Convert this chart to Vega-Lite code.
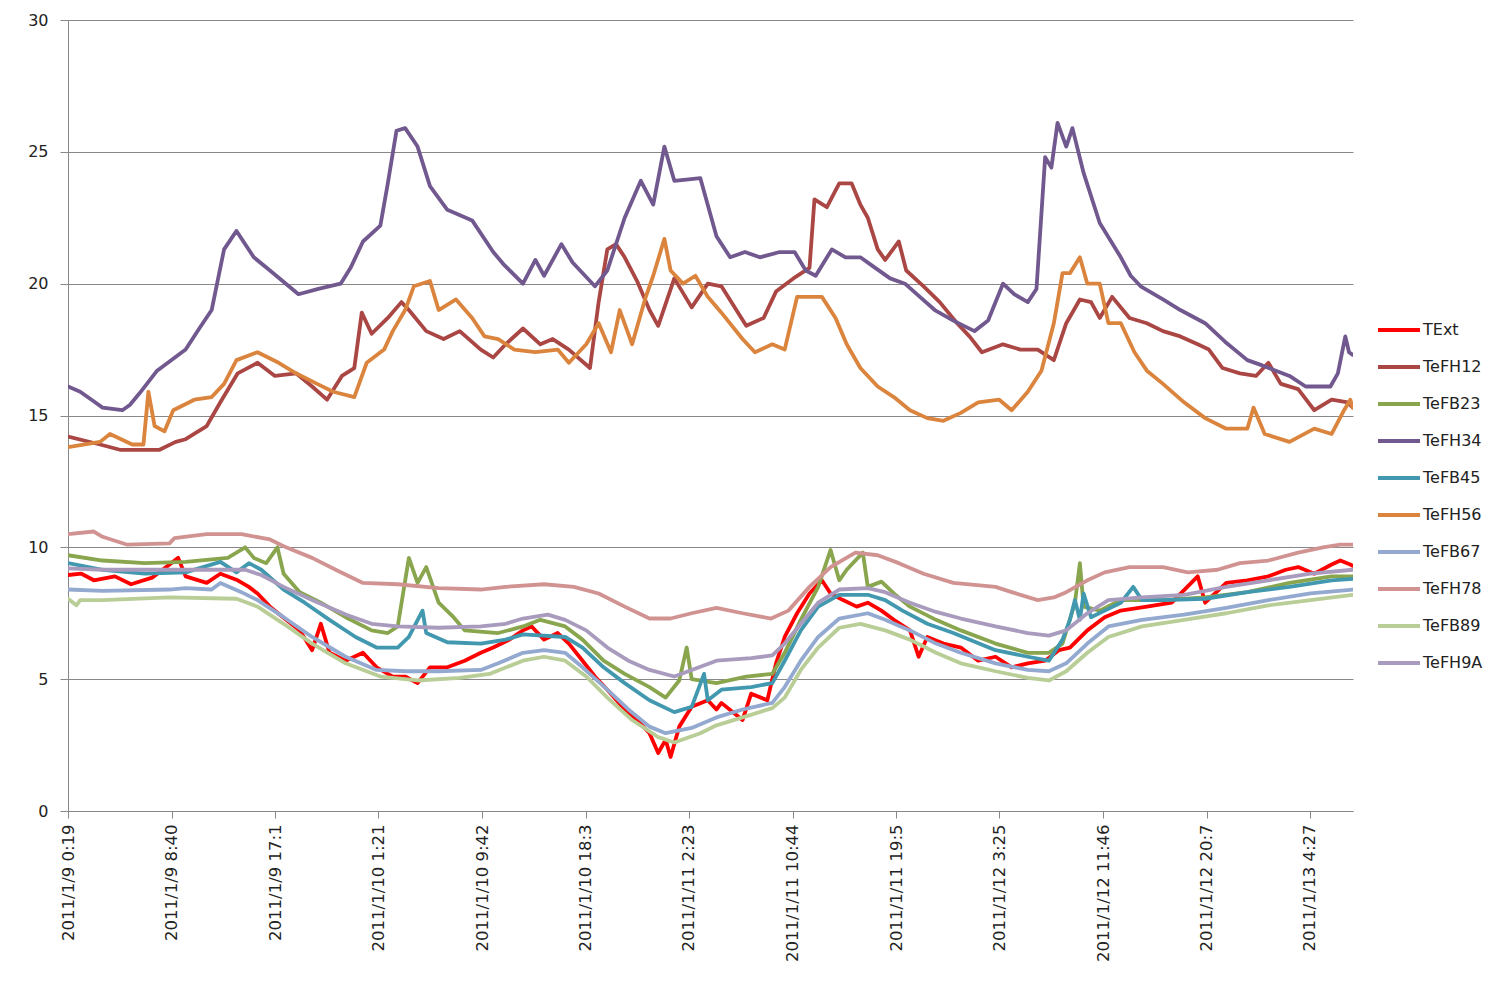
{
"$schema":"https://vega.github.io/schema/vega-lite/v6.json",
"width":1285,"height":791,
"autosize":"none",
"padding":{"left":68,"top":20,"right":144,"bottom":171},
"background":"white",
"config":{"view":{"stroke":null}},
"data":{"values":[
{"s":"TExt","h":0.32,"v":8.95},{"s":"TExt","h":1.4,"v":9.0},{"s":"TExt","h":2.4,"v":8.75},{"s":"TExt","h":4.1,"v":8.9},{"s":"TExt","h":5.4,"v":8.6},{"s":"TExt","h":7.1,"v":8.85},{"s":"TExt","h":9.2,"v":9.6},{"s":"TExt","h":9.8,"v":8.9},{"s":"TExt","h":11.5,"v":8.65},{"s":"TExt","h":12.6,"v":9.0},{"s":"TExt","h":14.0,"v":8.75},{"s":"TExt","h":14.9,"v":8.5},{"s":"TExt","h":15.6,"v":8.25},{"s":"TExt","h":16.6,"v":7.75},{"s":"TExt","h":17.9,"v":7.25},{"s":"TExt","h":19.0,"v":6.85},{"s":"TExt","h":20.0,"v":6.1},{"s":"TExt","h":20.7,"v":7.1},{"s":"TExt","h":21.4,"v":6.0},{"s":"TExt","h":22.7,"v":5.7},{"s":"TExt","h":24.1,"v":6.0},{"s":"TExt","h":25.2,"v":5.45},{"s":"TExt","h":26.5,"v":5.1},{"s":"TExt","h":27.5,"v":5.1},{"s":"TExt","h":28.5,"v":4.85},{"s":"TExt","h":29.5,"v":5.45},{"s":"TExt","h":30.9,"v":5.45},{"s":"TExt","h":32.3,"v":5.7},{"s":"TExt","h":33.6,"v":6.0},{"s":"TExt","h":34.6,"v":6.2},{"s":"TExt","h":35.9,"v":6.5},{"s":"TExt","h":37.0,"v":6.85},{"s":"TExt","h":37.7,"v":7.0},{"s":"TExt","h":38.7,"v":6.5},{"s":"TExt","h":39.8,"v":6.75},{"s":"TExt","h":40.7,"v":6.35},{"s":"TExt","h":41.8,"v":5.7},{"s":"TExt","h":42.8,"v":5.1},{"s":"TExt","h":43.8,"v":4.6},{"s":"TExt","h":45.2,"v":3.85},{"s":"TExt","h":46.2,"v":3.45},{"s":"TExt","h":47.2,"v":2.95},{"s":"TExt","h":47.9,"v":2.2},{"s":"TExt","h":48.5,"v":2.7},{"s":"TExt","h":48.9,"v":2.05},{"s":"TExt","h":49.6,"v":3.2},{"s":"TExt","h":50.6,"v":3.95},{"s":"TExt","h":51.9,"v":4.2},{"s":"TExt","h":52.6,"v":3.85},{"s":"TExt","h":53.0,"v":4.1},{"s":"TExt","h":54.7,"v":3.45},{"s":"TExt","h":55.4,"v":4.45},{"s":"TExt","h":56.7,"v":4.2},{"s":"TExt","h":57.4,"v":5.6},{"s":"TExt","h":58.1,"v":6.6},{"s":"TExt","h":59.1,"v":7.5},{"s":"TExt","h":60.1,"v":8.25},{"s":"TExt","h":61.1,"v":8.75},{"s":"TExt","h":61.8,"v":8.25},{"s":"TExt","h":62.8,"v":8.0},{"s":"TExt","h":63.9,"v":7.75},{"s":"TExt","h":64.8,"v":7.9},{"s":"TExt","h":65.9,"v":7.6},{"s":"TExt","h":66.9,"v":7.25},{"s":"TExt","h":68.2,"v":6.85},{"s":"TExt","h":68.9,"v":5.85},{"s":"TExt","h":69.6,"v":6.6},{"s":"TExt","h":70.9,"v":6.35},{"s":"TExt","h":72.3,"v":6.2},{"s":"TExt","h":73.7,"v":5.7},{"s":"TExt","h":75.1,"v":5.85},{"s":"TExt","h":76.4,"v":5.45},{"s":"TExt","h":77.7,"v":5.6},{"s":"TExt","h":79.1,"v":5.7},{"s":"TExt","h":80.2,"v":6.1},{"s":"TExt","h":81.1,"v":6.2},{"s":"TExt","h":82.5,"v":6.85},{"s":"TExt","h":83.9,"v":7.35},{"s":"TExt","h":85.2,"v":7.6},{"s":"TExt","h":87.3,"v":7.75},{"s":"TExt","h":89.3,"v":7.9},{"s":"TExt","h":91.4,"v":8.9},{"s":"TExt","h":92.0,"v":7.9},{"s":"TExt","h":93.7,"v":8.65},{"s":"TExt","h":95.4,"v":8.75},{"s":"TExt","h":97.1,"v":8.9},{"s":"TExt","h":98.5,"v":9.15},{"s":"TExt","h":99.5,"v":9.25},{"s":"TExt","h":100.8,"v":9.0},{"s":"TExt","h":102.2,"v":9.35},{"s":"TExt","h":102.9,"v":9.5},{"s":"TExt","h":103.7,"v":9.35},{"s":"TExt","h":103.9,"v":9.3},
{"s":"TeFH12","h":0.32,"v":14.2},{"s":"TeFH12","h":2.9,"v":13.9},{"s":"TeFH12","h":4.5,"v":13.7},{"s":"TeFH12","h":7.7,"v":13.7},{"s":"TeFH12","h":9.0,"v":14.0},{"s":"TeFH12","h":9.8,"v":14.1},{"s":"TeFH12","h":11.5,"v":14.6},{"s":"TeFH12","h":12.6,"v":15.5},{"s":"TeFH12","h":14.0,"v":16.6},{"s":"TeFH12","h":15.6,"v":17.0},{"s":"TeFH12","h":17.0,"v":16.5},{"s":"TeFH12","h":18.7,"v":16.6},{"s":"TeFH12","h":20.0,"v":16.1},{"s":"TeFH12","h":21.2,"v":15.6},{"s":"TeFH12","h":22.4,"v":16.5},{"s":"TeFH12","h":23.4,"v":16.8},{"s":"TeFH12","h":24.0,"v":18.9},{"s":"TeFH12","h":24.8,"v":18.1},{"s":"TeFH12","h":26.1,"v":18.7},{"s":"TeFH12","h":27.2,"v":19.3},{"s":"TeFH12","h":27.8,"v":19.0},{"s":"TeFH12","h":29.2,"v":18.2},{"s":"TeFH12","h":30.6,"v":17.9},{"s":"TeFH12","h":31.9,"v":18.2},{"s":"TeFH12","h":33.6,"v":17.5},{"s":"TeFH12","h":34.6,"v":17.2},{"s":"TeFH12","h":35.6,"v":17.7},{"s":"TeFH12","h":37.0,"v":18.3},{"s":"TeFH12","h":38.4,"v":17.7},{"s":"TeFH12","h":39.4,"v":17.9},{"s":"TeFH12","h":40.7,"v":17.5},{"s":"TeFH12","h":42.4,"v":16.8},{"s":"TeFH12","h":43.1,"v":19.3},{"s":"TeFH12","h":43.8,"v":21.3},{"s":"TeFH12","h":44.5,"v":21.5},{"s":"TeFH12","h":45.2,"v":21.0},{"s":"TeFH12","h":46.2,"v":20.1},{"s":"TeFH12","h":47.2,"v":19.0},{"s":"TeFH12","h":47.9,"v":18.4},{"s":"TeFH12","h":49.2,"v":20.2},{"s":"TeFH12","h":50.6,"v":19.1},{"s":"TeFH12","h":51.9,"v":20.0},{"s":"TeFH12","h":53.0,"v":19.9},{"s":"TeFH12","h":55.0,"v":18.4},{"s":"TeFH12","h":56.4,"v":18.7},{"s":"TeFH12","h":57.4,"v":19.7},{"s":"TeFH12","h":58.8,"v":20.2},{"s":"TeFH12","h":60.1,"v":20.6},{"s":"TeFH12","h":60.5,"v":23.2},{"s":"TeFH12","h":61.5,"v":22.9},{"s":"TeFH12","h":62.5,"v":23.8},{"s":"TeFH12","h":63.5,"v":23.8},{"s":"TeFH12","h":64.2,"v":23.0},{"s":"TeFH12","h":64.8,"v":22.5},{"s":"TeFH12","h":65.6,"v":21.3},{"s":"TeFH12","h":66.2,"v":20.9},{"s":"TeFH12","h":67.3,"v":21.6},{"s":"TeFH12","h":67.9,"v":20.5},{"s":"TeFH12","h":69.3,"v":19.9},{"s":"TeFH12","h":70.6,"v":19.3},{"s":"TeFH12","h":72.0,"v":18.5},{"s":"TeFH12","h":73.0,"v":18.0},{"s":"TeFH12","h":74.0,"v":17.4},{"s":"TeFH12","h":75.7,"v":17.7},{"s":"TeFH12","h":77.1,"v":17.5},{"s":"TeFH12","h":78.5,"v":17.5},{"s":"TeFH12","h":79.8,"v":17.1},{"s":"TeFH12","h":80.8,"v":18.5},{"s":"TeFH12","h":81.9,"v":19.4},{"s":"TeFH12","h":82.8,"v":19.3},{"s":"TeFH12","h":83.5,"v":18.7},{"s":"TeFH12","h":84.5,"v":19.5},{"s":"TeFH12","h":85.9,"v":18.7},{"s":"TeFH12","h":87.3,"v":18.5},{"s":"TeFH12","h":88.6,"v":18.2},{"s":"TeFH12","h":90.0,"v":18.0},{"s":"TeFH12","h":91.4,"v":17.7},{"s":"TeFH12","h":92.3,"v":17.5},{"s":"TeFH12","h":93.4,"v":16.8},{"s":"TeFH12","h":94.8,"v":16.6},{"s":"TeFH12","h":96.1,"v":16.5},{"s":"TeFH12","h":97.1,"v":17.0},{"s":"TeFH12","h":98.1,"v":16.2},{"s":"TeFH12","h":99.5,"v":16.0},{"s":"TeFH12","h":100.8,"v":15.2},{"s":"TeFH12","h":102.2,"v":15.6},{"s":"TeFH12","h":103.5,"v":15.5},{"s":"TeFH12","h":103.9,"v":15.3},
{"s":"TeFB23","h":0.32,"v":9.7},{"s":"TeFB23","h":3.1,"v":9.5},{"s":"TeFB23","h":6.5,"v":9.4},{"s":"TeFB23","h":9.8,"v":9.45},{"s":"TeFB23","h":13.2,"v":9.6},{"s":"TeFB23","h":14.6,"v":10.0},{"s":"TeFB23","h":15.3,"v":9.6},{"s":"TeFB23","h":16.3,"v":9.4},{"s":"TeFB23","h":17.2,"v":10.0},{"s":"TeFB23","h":17.7,"v":9.0},{"s":"TeFB23","h":19.0,"v":8.3},{"s":"TeFB23","h":20.7,"v":7.9},{"s":"TeFB23","h":22.7,"v":7.35},{"s":"TeFB23","h":24.8,"v":6.85},{"s":"TeFB23","h":26.1,"v":6.75},{"s":"TeFB23","h":26.9,"v":7.0},{"s":"TeFB23","h":27.8,"v":9.6},{"s":"TeFB23","h":28.5,"v":8.65},{"s":"TeFB23","h":29.2,"v":9.25},{"s":"TeFB23","h":30.2,"v":7.9},{"s":"TeFB23","h":31.4,"v":7.35},{"s":"TeFB23","h":32.3,"v":6.85},{"s":"TeFB23","h":35.0,"v":6.75},{"s":"TeFB23","h":37.0,"v":7.0},{"s":"TeFB23","h":38.4,"v":7.25},{"s":"TeFB23","h":40.4,"v":7.0},{"s":"TeFB23","h":41.8,"v":6.5},{"s":"TeFB23","h":43.5,"v":5.7},{"s":"TeFB23","h":45.2,"v":5.2},{"s":"TeFB23","h":47.2,"v":4.7},{"s":"TeFB23","h":48.5,"v":4.3},{"s":"TeFB23","h":49.6,"v":4.95},{"s":"TeFB23","h":50.2,"v":6.2},{"s":"TeFB23","h":50.6,"v":5.0},{"s":"TeFB23","h":52.6,"v":4.85},{"s":"TeFB23","h":55.0,"v":5.1},{"s":"TeFB23","h":57.1,"v":5.2},{"s":"TeFB23","h":58.1,"v":6.0},{"s":"TeFB23","h":59.4,"v":7.25},{"s":"TeFB23","h":60.8,"v":8.5},{"s":"TeFB23","h":61.8,"v":9.9},{"s":"TeFB23","h":62.5,"v":8.75},{"s":"TeFB23","h":63.1,"v":9.15},{"s":"TeFB23","h":64.4,"v":9.8},{"s":"TeFB23","h":64.8,"v":8.5},{"s":"TeFB23","h":65.9,"v":8.7},{"s":"TeFB23","h":66.9,"v":8.25},{"s":"TeFB23","h":68.2,"v":7.75},{"s":"TeFB23","h":70.3,"v":7.25},{"s":"TeFB23","h":72.3,"v":6.85},{"s":"TeFB23","h":75.1,"v":6.35},{"s":"TeFB23","h":77.7,"v":6.0},{"s":"TeFB23","h":79.4,"v":6.0},{"s":"TeFB23","h":80.5,"v":6.35},{"s":"TeFB23","h":81.5,"v":7.9},{"s":"TeFB23","h":81.9,"v":9.4},{"s":"TeFB23","h":82.2,"v":7.75},{"s":"TeFB23","h":83.5,"v":7.6},{"s":"TeFB23","h":85.2,"v":8.0},{"s":"TeFB23","h":88.6,"v":8.0},{"s":"TeFB23","h":92.0,"v":8.1},{"s":"TeFB23","h":95.4,"v":8.3},{"s":"TeFB23","h":98.8,"v":8.65},{"s":"TeFB23","h":102.2,"v":8.9},{"s":"TeFB23","h":103.9,"v":8.9},
{"s":"TeFH34","h":0.32,"v":16.1},{"s":"TeFH34","h":1.3,"v":15.9},{"s":"TeFH34","h":2.5,"v":15.5},{"s":"TeFH34","h":3.1,"v":15.3},{"s":"TeFH34","h":4.7,"v":15.2},{"s":"TeFH34","h":5.3,"v":15.4},{"s":"TeFH34","h":6.1,"v":15.85},{"s":"TeFH34","h":7.5,"v":16.7},{"s":"TeFH34","h":9.8,"v":17.5},{"s":"TeFH34","h":10.9,"v":18.3},{"s":"TeFH34","h":11.9,"v":19.0},{"s":"TeFH34","h":12.9,"v":21.3},{"s":"TeFH34","h":13.9,"v":22.0},{"s":"TeFH34","h":15.3,"v":21.0},{"s":"TeFH34","h":16.6,"v":20.5},{"s":"TeFH34","h":18.9,"v":19.6},{"s":"TeFH34","h":20.5,"v":19.8},{"s":"TeFH34","h":22.3,"v":20.0},{"s":"TeFH34","h":23.1,"v":20.6},{"s":"TeFH34","h":24.1,"v":21.6},{"s":"TeFH34","h":25.5,"v":22.2},{"s":"TeFH34","h":26.1,"v":23.8},{"s":"TeFH34","h":26.8,"v":25.8},{"s":"TeFH34","h":27.5,"v":25.9},{"s":"TeFH34","h":28.5,"v":25.2},{"s":"TeFH34","h":29.5,"v":23.7},{"s":"TeFH34","h":30.9,"v":22.8},{"s":"TeFH34","h":32.9,"v":22.4},{"s":"TeFH34","h":34.6,"v":21.2},{"s":"TeFH34","h":35.5,"v":20.7},{"s":"TeFH34","h":37.0,"v":20.0},{"s":"TeFH34","h":38.0,"v":20.9},{"s":"TeFH34","h":38.7,"v":20.3},{"s":"TeFH34","h":40.1,"v":21.5},{"s":"TeFH34","h":41.0,"v":20.8},{"s":"TeFH34","h":42.8,"v":19.9},{"s":"TeFH34","h":43.8,"v":20.5},{"s":"TeFH34","h":45.2,"v":22.5},{"s":"TeFH34","h":46.5,"v":23.9},{"s":"TeFH34","h":47.5,"v":23.0},{"s":"TeFH34","h":48.4,"v":25.2},{"s":"TeFH34","h":49.2,"v":23.9},{"s":"TeFH34","h":51.3,"v":24.0},{"s":"TeFH34","h":52.6,"v":21.8},{"s":"TeFH34","h":53.7,"v":21.0},{"s":"TeFH34","h":54.9,"v":21.2},{"s":"TeFH34","h":56.1,"v":21.0},{"s":"TeFH34","h":57.7,"v":21.2},{"s":"TeFH34","h":58.9,"v":21.2},{"s":"TeFH34","h":59.8,"v":20.5},{"s":"TeFH34","h":60.6,"v":20.3},{"s":"TeFH34","h":61.9,"v":21.3},{"s":"TeFH34","h":63.0,"v":21.0},{"s":"TeFH34","h":64.2,"v":21.0},{"s":"TeFH34","h":65.4,"v":20.6},{"s":"TeFH34","h":66.6,"v":20.2},{"s":"TeFH34","h":67.8,"v":20.0},{"s":"TeFH34","h":69.0,"v":19.5},{"s":"TeFH34","h":70.2,"v":19.0},{"s":"TeFH34","h":71.7,"v":18.6},{"s":"TeFH34","h":73.4,"v":18.2},{"s":"TeFH34","h":74.5,"v":18.6},{"s":"TeFH34","h":75.7,"v":20.0},{"s":"TeFH34","h":76.6,"v":19.6},{"s":"TeFH34","h":77.7,"v":19.3},{"s":"TeFH34","h":78.4,"v":19.8},{"s":"TeFH34","h":79.1,"v":24.8},{"s":"TeFH34","h":79.6,"v":24.4},{"s":"TeFH34","h":80.1,"v":26.1},{"s":"TeFH34","h":80.8,"v":25.2},{"s":"TeFH34","h":81.3,"v":25.9},{"s":"TeFH34","h":82.2,"v":24.2},{"s":"TeFH34","h":83.5,"v":22.3},{"s":"TeFH34","h":85.2,"v":21.0},{"s":"TeFH34","h":86.0,"v":20.3},{"s":"TeFH34","h":86.8,"v":19.9},{"s":"TeFH34","h":88.6,"v":19.4},{"s":"TeFH34","h":90.0,"v":19.0},{"s":"TeFH34","h":92.0,"v":18.5},{"s":"TeFH34","h":93.6,"v":17.8},{"s":"TeFH34","h":95.4,"v":17.1},{"s":"TeFH34","h":96.6,"v":16.9},{"s":"TeFH34","h":98.8,"v":16.5},{"s":"TeFH34","h":100.1,"v":16.1},{"s":"TeFH34","h":102.1,"v":16.1},{"s":"TeFH34","h":102.7,"v":16.6},{"s":"TeFH34","h":103.3,"v":18.0},{"s":"TeFH34","h":103.6,"v":17.4},{"s":"TeFH34","h":103.9,"v":17.3},
{"s":"TeFB45","h":0.32,"v":9.4},{"s":"TeFB45","h":3.1,"v":9.15},{"s":"TeFB45","h":6.5,"v":9.0},{"s":"TeFB45","h":9.8,"v":9.05},{"s":"TeFB45","h":12.6,"v":9.45},{"s":"TeFB45","h":13.9,"v":9.05},{"s":"TeFB45","h":14.9,"v":9.4},{"s":"TeFB45","h":15.9,"v":9.15},{"s":"TeFB45","h":17.7,"v":8.4},{"s":"TeFB45","h":19.4,"v":7.9},{"s":"TeFB45","h":21.4,"v":7.25},{"s":"TeFB45","h":23.5,"v":6.6},{"s":"TeFB45","h":25.2,"v":6.2},{"s":"TeFB45","h":26.9,"v":6.2},{"s":"TeFB45","h":27.8,"v":6.6},{"s":"TeFB45","h":28.9,"v":7.6},{"s":"TeFB45","h":29.2,"v":6.75},{"s":"TeFB45","h":30.9,"v":6.4},{"s":"TeFB45","h":33.6,"v":6.35},{"s":"TeFB45","h":35.6,"v":6.5},{"s":"TeFB45","h":37.0,"v":6.7},{"s":"TeFB45","h":40.4,"v":6.6},{"s":"TeFB45","h":41.8,"v":6.2},{"s":"TeFB45","h":43.5,"v":5.45},{"s":"TeFB45","h":45.2,"v":4.85},{"s":"TeFB45","h":47.2,"v":4.2},{"s":"TeFB45","h":49.2,"v":3.75},{"s":"TeFB45","h":50.6,"v":3.95},{"s":"TeFB45","h":51.6,"v":5.2},{"s":"TeFB45","h":51.9,"v":4.2},{"s":"TeFB45","h":53.0,"v":4.6},{"s":"TeFB45","h":55.4,"v":4.7},{"s":"TeFB45","h":57.1,"v":4.85},{"s":"TeFB45","h":58.1,"v":5.7},{"s":"TeFB45","h":59.4,"v":6.85},{"s":"TeFB45","h":60.8,"v":7.75},{"s":"TeFB45","h":62.5,"v":8.2},{"s":"TeFB45","h":64.8,"v":8.2},{"s":"TeFB45","h":66.2,"v":8.0},{"s":"TeFB45","h":67.6,"v":7.6},{"s":"TeFB45","h":69.6,"v":7.1},{"s":"TeFB45","h":71.7,"v":6.75},{"s":"TeFB45","h":75.1,"v":6.1},{"s":"TeFB45","h":77.7,"v":5.85},{"s":"TeFB45","h":79.4,"v":5.7},{"s":"TeFB45","h":80.5,"v":6.5},{"s":"TeFB45","h":81.1,"v":7.25},{"s":"TeFB45","h":81.5,"v":8.0},{"s":"TeFB45","h":81.9,"v":7.25},{"s":"TeFB45","h":82.2,"v":8.25},{"s":"TeFB45","h":82.8,"v":7.35},{"s":"TeFB45","h":83.9,"v":7.6},{"s":"TeFB45","h":85.2,"v":7.9},{"s":"TeFB45","h":86.2,"v":8.5},{"s":"TeFB45","h":86.9,"v":8.0},{"s":"TeFB45","h":88.6,"v":8.0},{"s":"TeFB45","h":92.0,"v":8.05},{"s":"TeFB45","h":95.4,"v":8.3},{"s":"TeFB45","h":98.8,"v":8.5},{"s":"TeFB45","h":102.2,"v":8.75},{"s":"TeFB45","h":103.9,"v":8.8},
{"s":"TeFH56","h":0.32,"v":13.8},{"s":"TeFH56","h":2.9,"v":14.0},{"s":"TeFH56","h":3.7,"v":14.3},{"s":"TeFH56","h":5.5,"v":13.9},{"s":"TeFH56","h":6.4,"v":13.9},{"s":"TeFH56","h":6.8,"v":15.9},{"s":"TeFH56","h":7.3,"v":14.6},{"s":"TeFH56","h":8.1,"v":14.4},{"s":"TeFH56","h":8.8,"v":15.2},{"s":"TeFH56","h":10.5,"v":15.6},{"s":"TeFH56","h":11.9,"v":15.7},{"s":"TeFH56","h":12.9,"v":16.2},{"s":"TeFH56","h":13.9,"v":17.1},{"s":"TeFH56","h":15.6,"v":17.4},{"s":"TeFH56","h":17.3,"v":17.0},{"s":"TeFH56","h":18.7,"v":16.6},{"s":"TeFH56","h":20.4,"v":16.2},{"s":"TeFH56","h":21.7,"v":15.9},{"s":"TeFH56","h":23.4,"v":15.7},{"s":"TeFH56","h":24.4,"v":17.0},{"s":"TeFH56","h":25.8,"v":17.5},{"s":"TeFH56","h":26.5,"v":18.2},{"s":"TeFH56","h":27.5,"v":19.0},{"s":"TeFH56","h":28.2,"v":19.9},{"s":"TeFH56","h":29.5,"v":20.1},{"s":"TeFH56","h":30.2,"v":19.0},{"s":"TeFH56","h":31.6,"v":19.4},{"s":"TeFH56","h":32.9,"v":18.7},{"s":"TeFH56","h":33.9,"v":18.0},{"s":"TeFH56","h":35.0,"v":17.9},{"s":"TeFH56","h":36.3,"v":17.5},{"s":"TeFH56","h":38.0,"v":17.4},{"s":"TeFH56","h":39.8,"v":17.5},{"s":"TeFH56","h":40.7,"v":17.0},{"s":"TeFH56","h":42.1,"v":17.7},{"s":"TeFH56","h":43.1,"v":18.5},{"s":"TeFH56","h":44.1,"v":17.4},{"s":"TeFH56","h":44.8,"v":19.0},{"s":"TeFH56","h":45.8,"v":17.7},{"s":"TeFH56","h":46.9,"v":19.5},{"s":"TeFH56","h":47.5,"v":20.3},{"s":"TeFH56","h":48.4,"v":21.7},{"s":"TeFH56","h":48.9,"v":20.5},{"s":"TeFH56","h":49.9,"v":20.0},{"s":"TeFH56","h":50.9,"v":20.3},{"s":"TeFH56","h":51.9,"v":19.5},{"s":"TeFH56","h":53.0,"v":18.9},{"s":"TeFH56","h":54.7,"v":17.9},{"s":"TeFH56","h":55.7,"v":17.4},{"s":"TeFH56","h":57.1,"v":17.7},{"s":"TeFH56","h":58.1,"v":17.5},{"s":"TeFH56","h":59.1,"v":19.5},{"s":"TeFH56","h":60.1,"v":19.5},{"s":"TeFH56","h":61.1,"v":19.5},{"s":"TeFH56","h":62.2,"v":18.7},{"s":"TeFH56","h":63.1,"v":17.7},{"s":"TeFH56","h":64.2,"v":16.8},{"s":"TeFH56","h":65.6,"v":16.1},{"s":"TeFH56","h":66.9,"v":15.7},{"s":"TeFH56","h":68.2,"v":15.2},{"s":"TeFH56","h":69.6,"v":14.9},{"s":"TeFH56","h":70.9,"v":14.8},{"s":"TeFH56","h":72.3,"v":15.1},{"s":"TeFH56","h":73.7,"v":15.5},{"s":"TeFH56","h":75.4,"v":15.6},{"s":"TeFH56","h":76.4,"v":15.2},{"s":"TeFH56","h":77.7,"v":15.9},{"s":"TeFH56","h":78.8,"v":16.7},{"s":"TeFH56","h":79.8,"v":18.5},{"s":"TeFH56","h":80.5,"v":20.4},{"s":"TeFH56","h":81.1,"v":20.4},{"s":"TeFH56","h":81.9,"v":21.0},{"s":"TeFH56","h":82.5,"v":20.0},{"s":"TeFH56","h":83.5,"v":20.0},{"s":"TeFH56","h":84.2,"v":18.5},{"s":"TeFH56","h":85.2,"v":18.5},{"s":"TeFH56","h":86.3,"v":17.4},{"s":"TeFH56","h":87.3,"v":16.7},{"s":"TeFH56","h":88.6,"v":16.2},{"s":"TeFH56","h":90.3,"v":15.5},{"s":"TeFH56","h":92.0,"v":14.9},{"s":"TeFH56","h":93.7,"v":14.5},{"s":"TeFH56","h":95.4,"v":14.5},{"s":"TeFH56","h":95.9,"v":15.3},{"s":"TeFH56","h":96.8,"v":14.3},{"s":"TeFH56","h":98.8,"v":14.0},{"s":"TeFH56","h":100.8,"v":14.5},{"s":"TeFH56","h":102.2,"v":14.3},{"s":"TeFH56","h":103.2,"v":15.2},{"s":"TeFH56","h":103.7,"v":15.6},{"s":"TeFH56","h":103.9,"v":15.3},
{"s":"TeFB67","h":0.32,"v":8.4},{"s":"TeFB67","h":3.1,"v":8.35},{"s":"TeFB67","h":8.5,"v":8.4},{"s":"TeFB67","h":9.8,"v":8.45},{"s":"TeFB67","h":11.9,"v":8.4},{"s":"TeFB67","h":12.6,"v":8.65},{"s":"TeFB67","h":14.3,"v":8.3},{"s":"TeFB67","h":15.6,"v":8.0},{"s":"TeFB67","h":17.7,"v":7.35},{"s":"TeFB67","h":20.0,"v":6.6},{"s":"TeFB67","h":22.7,"v":5.85},{"s":"TeFB67","h":25.2,"v":5.35},{"s":"TeFB67","h":27.5,"v":5.3},{"s":"TeFB67","h":30.2,"v":5.3},{"s":"TeFB67","h":33.6,"v":5.35},{"s":"TeFB67","h":35.0,"v":5.6},{"s":"TeFB67","h":37.0,"v":6.0},{"s":"TeFB67","h":38.7,"v":6.1},{"s":"TeFB67","h":40.4,"v":6.0},{"s":"TeFB67","h":41.8,"v":5.45},{"s":"TeFB67","h":43.8,"v":4.6},{"s":"TeFB67","h":45.5,"v":3.85},{"s":"TeFB67","h":47.2,"v":3.2},{"s":"TeFB67","h":48.5,"v":2.95},{"s":"TeFB67","h":50.6,"v":3.15},{"s":"TeFB67","h":52.6,"v":3.55},{"s":"TeFB67","h":54.7,"v":3.85},{"s":"TeFB67","h":57.1,"v":4.1},{"s":"TeFB67","h":58.1,"v":4.7},{"s":"TeFB67","h":59.4,"v":5.7},{"s":"TeFB67","h":60.8,"v":6.6},{"s":"TeFB67","h":62.5,"v":7.3},{"s":"TeFB67","h":64.8,"v":7.5},{"s":"TeFB67","h":66.2,"v":7.25},{"s":"TeFB67","h":68.2,"v":6.85},{"s":"TeFB67","h":70.3,"v":6.35},{"s":"TeFB67","h":72.3,"v":6.0},{"s":"TeFB67","h":75.1,"v":5.6},{"s":"TeFB67","h":77.7,"v":5.35},{"s":"TeFB67","h":79.4,"v":5.3},{"s":"TeFB67","h":80.8,"v":5.6},{"s":"TeFB67","h":82.5,"v":6.35},{"s":"TeFB67","h":84.2,"v":7.0},{"s":"TeFB67","h":86.9,"v":7.25},{"s":"TeFB67","h":90.3,"v":7.45},{"s":"TeFB67","h":93.7,"v":7.7},{"s":"TeFB67","h":97.1,"v":8.0},{"s":"TeFB67","h":100.5,"v":8.25},{"s":"TeFB67","h":103.9,"v":8.4},
{"s":"TeFH78","h":0.32,"v":10.5},{"s":"TeFH78","h":2.4,"v":10.6},{"s":"TeFH78","h":3.1,"v":10.4},{"s":"TeFH78","h":5.1,"v":10.1},{"s":"TeFH78","h":8.5,"v":10.15},{"s":"TeFH78","h":8.9,"v":10.35},{"s":"TeFH78","h":11.5,"v":10.5},{"s":"TeFH78","h":14.3,"v":10.5},{"s":"TeFH78","h":16.6,"v":10.3},{"s":"TeFH78","h":17.9,"v":10.0},{"s":"TeFH78","h":20.0,"v":9.6},{"s":"TeFH78","h":22.1,"v":9.1},{"s":"TeFH78","h":24.1,"v":8.65},{"s":"TeFH78","h":26.9,"v":8.6},{"s":"TeFH78","h":30.2,"v":8.45},{"s":"TeFH78","h":33.6,"v":8.4},{"s":"TeFH78","h":35.6,"v":8.5},{"s":"TeFH78","h":38.7,"v":8.6},{"s":"TeFH78","h":41.1,"v":8.5},{"s":"TeFH78","h":43.1,"v":8.25},{"s":"TeFH78","h":45.2,"v":7.75},{"s":"TeFH78","h":47.2,"v":7.3},{"s":"TeFH78","h":48.9,"v":7.3},{"s":"TeFH78","h":50.6,"v":7.5},{"s":"TeFH78","h":52.6,"v":7.7},{"s":"TeFH78","h":54.7,"v":7.5},{"s":"TeFH78","h":57.0,"v":7.3},{"s":"TeFH78","h":58.4,"v":7.6},{"s":"TeFH78","h":60.1,"v":8.5},{"s":"TeFH78","h":61.8,"v":9.25},{"s":"TeFH78","h":63.8,"v":9.8},{"s":"TeFH78","h":65.6,"v":9.7},{"s":"TeFH78","h":67.3,"v":9.4},{"s":"TeFH78","h":69.3,"v":9.0},{"s":"TeFH78","h":71.7,"v":8.65},{"s":"TeFH78","h":75.1,"v":8.5},{"s":"TeFH78","h":76.4,"v":8.3},{"s":"TeFH78","h":78.5,"v":8.0},{"s":"TeFH78","h":79.8,"v":8.1},{"s":"TeFH78","h":80.8,"v":8.3},{"s":"TeFH78","h":82.5,"v":8.75},{"s":"TeFH78","h":83.9,"v":9.05},{"s":"TeFH78","h":85.9,"v":9.25},{"s":"TeFH78","h":88.6,"v":9.25},{"s":"TeFH78","h":90.6,"v":9.05},{"s":"TeFH78","h":93.0,"v":9.15},{"s":"TeFH78","h":94.8,"v":9.4},{"s":"TeFH78","h":97.1,"v":9.5},{"s":"TeFH78","h":99.5,"v":9.8},{"s":"TeFH78","h":101.5,"v":10.0},{"s":"TeFH78","h":102.9,"v":10.1},{"s":"TeFH78","h":103.9,"v":10.1},
{"s":"TeFB89","h":0.32,"v":8.05},{"s":"TeFB89","h":1.0,"v":7.8},{"s":"TeFB89","h":1.3,"v":8.0},{"s":"TeFB89","h":3.1,"v":8.0},{"s":"TeFB89","h":8.5,"v":8.1},{"s":"TeFB89","h":13.9,"v":8.05},{"s":"TeFB89","h":15.6,"v":7.75},{"s":"TeFB89","h":17.7,"v":7.1},{"s":"TeFB89","h":20.0,"v":6.35},{"s":"TeFB89","h":22.7,"v":5.6},{"s":"TeFB89","h":25.5,"v":5.1},{"s":"TeFB89","h":28.5,"v":4.95},{"s":"TeFB89","h":31.9,"v":5.05},{"s":"TeFB89","h":34.3,"v":5.2},{"s":"TeFB89","h":37.0,"v":5.7},{"s":"TeFB89","h":38.7,"v":5.85},{"s":"TeFB89","h":40.4,"v":5.7},{"s":"TeFB89","h":42.1,"v":5.1},{"s":"TeFB89","h":43.8,"v":4.3},{"s":"TeFB89","h":45.8,"v":3.45},{"s":"TeFB89","h":47.9,"v":2.8},{"s":"TeFB89","h":49.2,"v":2.6},{"s":"TeFB89","h":51.3,"v":2.95},{"s":"TeFB89","h":52.6,"v":3.25},{"s":"TeFB89","h":54.7,"v":3.55},{"s":"TeFB89","h":57.1,"v":3.9},{"s":"TeFB89","h":58.1,"v":4.3},{"s":"TeFB89","h":59.4,"v":5.35},{"s":"TeFB89","h":60.8,"v":6.2},{"s":"TeFB89","h":62.5,"v":6.95},{"s":"TeFB89","h":64.2,"v":7.1},{"s":"TeFB89","h":66.2,"v":6.85},{"s":"TeFB89","h":68.2,"v":6.5},{"s":"TeFB89","h":70.3,"v":6.0},{"s":"TeFB89","h":72.3,"v":5.6},{"s":"TeFB89","h":75.1,"v":5.3},{"s":"TeFB89","h":77.7,"v":5.05},{"s":"TeFB89","h":79.4,"v":4.95},{"s":"TeFB89","h":80.8,"v":5.3},{"s":"TeFB89","h":82.5,"v":6.0},{"s":"TeFB89","h":84.2,"v":6.6},{"s":"TeFB89","h":86.9,"v":7.0},{"s":"TeFB89","h":90.3,"v":7.25},{"s":"TeFB89","h":93.7,"v":7.5},{"s":"TeFB89","h":97.1,"v":7.8},{"s":"TeFB89","h":100.5,"v":8.0},{"s":"TeFB89","h":103.9,"v":8.2},
{"s":"TeFH9A","h":0.32,"v":9.2},{"s":"TeFH9A","h":3.1,"v":9.15},{"s":"TeFH9A","h":6.5,"v":9.15},{"s":"TeFH9A","h":9.8,"v":9.15},{"s":"TeFH9A","h":14.6,"v":9.15},{"s":"TeFH9A","h":15.9,"v":8.95},{"s":"TeFH9A","h":17.7,"v":8.5},{"s":"TeFH9A","h":20.0,"v":8.0},{"s":"TeFH9A","h":22.7,"v":7.45},{"s":"TeFH9A","h":24.8,"v":7.1},{"s":"TeFH9A","h":26.9,"v":7.0},{"s":"TeFH9A","h":30.2,"v":6.95},{"s":"TeFH9A","h":33.6,"v":7.0},{"s":"TeFH9A","h":35.6,"v":7.1},{"s":"TeFH9A","h":37.0,"v":7.3},{"s":"TeFH9A","h":39.0,"v":7.45},{"s":"TeFH9A","h":40.4,"v":7.25},{"s":"TeFH9A","h":42.1,"v":6.85},{"s":"TeFH9A","h":43.8,"v":6.2},{"s":"TeFH9A","h":45.5,"v":5.7},{"s":"TeFH9A","h":47.2,"v":5.35},{"s":"TeFH9A","h":49.2,"v":5.1},{"s":"TeFH9A","h":50.6,"v":5.35},{"s":"TeFH9A","h":52.6,"v":5.7},{"s":"TeFH9A","h":55.4,"v":5.8},{"s":"TeFH9A","h":57.1,"v":5.9},{"s":"TeFH9A","h":58.1,"v":6.35},{"s":"TeFH9A","h":59.4,"v":7.1},{"s":"TeFH9A","h":60.8,"v":7.9},{"s":"TeFH9A","h":62.5,"v":8.4},{"s":"TeFH9A","h":64.8,"v":8.45},{"s":"TeFH9A","h":66.2,"v":8.3},{"s":"TeFH9A","h":68.2,"v":7.9},{"s":"TeFH9A","h":70.3,"v":7.55},{"s":"TeFH9A","h":72.3,"v":7.3},{"s":"TeFH9A","h":75.1,"v":7.0},{"s":"TeFH9A","h":77.7,"v":6.75},{"s":"TeFH9A","h":79.4,"v":6.65},{"s":"TeFH9A","h":80.8,"v":6.85},{"s":"TeFH9A","h":82.5,"v":7.5},{"s":"TeFH9A","h":84.2,"v":8.0},{"s":"TeFH9A","h":86.9,"v":8.1},{"s":"TeFH9A","h":90.3,"v":8.2},{"s":"TeFH9A","h":93.7,"v":8.5},{"s":"TeFH9A","h":97.1,"v":8.75},{"s":"TeFH9A","h":100.5,"v":9.0},{"s":"TeFH9A","h":103.9,"v":9.15}
]},
"mark":{"type":"line","strokeWidth":3.8,"strokeJoin":"round","strokeCap":"round","clip":true},
"encoding":{
"x":{"field":"h","type":"quantitative","scale":{"domain":[0.31667,103.92],"nice":false,"zero":false},
"axis":{"title":null,"grid":false,"values":[0.31667,8.66667,17.01667,25.35,33.7,42.05,50.38333,58.73333,67.08333,75.41667,83.76667,92.11667,100.45],
"labelExpr":"'2011/1/' + (9 + floor(round(datum.value*60)/1440)) + ' ' + floor((round(datum.value*60)%1440)/60) + ':' + (round(datum.value*60)%60)",
"labelAngle":-90,"labelFlush":false,"labelOverlap":false,"labelFont":"DejaVu Sans","labelFontSize":16.5,"labelColor":"#222222","labelPadding":6,
"tickSize":7,"tickColor":"#888888","domainColor":"#888888"}},
"y":{"field":"v","type":"quantitative","scale":{"domain":[0,30],"nice":false},
"axis":{"title":null,"values":[0,5,10,15,20,25,30],"grid":true,"gridColor":"#888888","gridOpacity":1,"labelFlush":false,"labelOverlap":false,"labelFont":"DejaVu Sans","labelFontSize":16,"labelColor":"#222222","labelPadding":12,"tickSize":8,"tickColor":"#888888","domainColor":"#888888"}},
"color":{"field":"s","type":"nominal",
"scale":{"domain":["TExt","TeFH12","TeFB23","TeFH34","TeFB45","TeFH56","TeFB67","TeFH78","TeFB89","TeFH9A"],
"range":["#FF0000","#AA4643","#89A54E","#71588F","#4198AF","#DB843D","#93A9CF","#D19392","#B9CD96","#A99BBD"]},
"legend":{"title":null,"orient":"none","legendX":1308,"legendY":287,"symbolType":"stroke","symbolSize":1764,"symbolStrokeWidth":4,"labelFont":"DejaVu Sans","labelFontSize":16,"labelColor":"#222222","labelOffset":1,"rowPadding":6}}
}
}
